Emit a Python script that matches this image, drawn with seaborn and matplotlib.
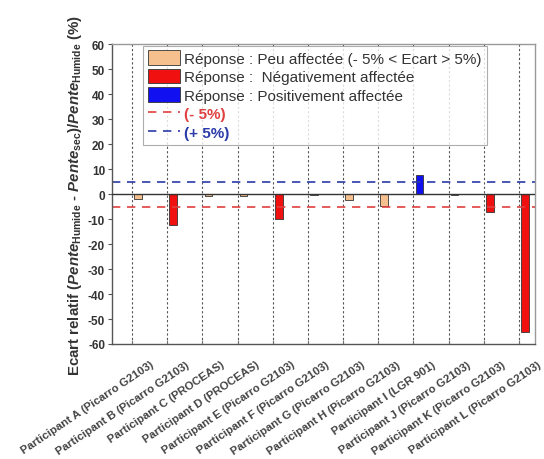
import matplotlib
matplotlib.use("Agg")
import matplotlib.pyplot as plt
from matplotlib.patches import Patch
from matplotlib.lines import Line2D
import seaborn as sns
import pandas as pd

participants = [
    "Participant A (Picarro G2103)",
    "Participant B (Picarro G2103)",
    "Participant C (PROCEAS)",
    "Participant D (PROCEAS)",
    "Participant E (Picarro G2103)",
    "Participant F (Picarro G2103)",
    "Participant G (Picarro G2103)",
    "Participant H (Picarro G2103)",
    "Participant I (LGR 901)",
    "Participant J (Picarro G2103)",
    "Participant K (Picarro G2103)",
    "Participant L (Picarro G2103)",
]
ecart = [-1.8, -12.5, -0.7, -0.7, -10.0, -0.5, -2.5, -4.8, 7.5, -0.5, -7.0, -55.0]
reponse = ["Peu", "Neg", "Peu", "Peu", "Neg", "Peu", "Peu", "Peu", "Pos", "Peu", "Neg", "Neg"]
seuil_bas = -5
seuil_haut = 5
y_ticks = list(range(-60, 61, 10))

legend_labels = {
    "Peu": "Réponse : Peu affectée (- 5% < Ecart > 5%)",
    "Neg": "Réponse :  Négativement affectée",
    "Pos": "Réponse : Positivement affectée",
}
colors = {"Peu": "#F6C08E", "Neg": "#F01010", "Pos": "#1010F0"}

sns.set_theme(style="white")
plt.rcParams["font.family"] = ["Liberation Sans", "DejaVu Sans"]
plt.rcParams["mathtext.fontset"] = "custom"
plt.rcParams["mathtext.rm"] = "Liberation Sans:bold"
plt.rcParams["mathtext.bf"] = "Liberation Sans:bold"
plt.rcParams["mathtext.it"] = "Liberation Sans:italic:bold"

df = pd.DataFrame({"participant": participants, "ecart": ecart, "reponse": reponse})

fig = plt.figure(figsize=(5.44, 4.60), dpi=100)
ax = fig.add_axes([0.206, 0.250, 0.777, 0.652])

sns.barplot(data=df, x="participant", y="ecart", hue="reponse", order=participants,
            palette=colors, saturation=1, dodge=False, width=0.22, edgecolor="#333333",
            linewidth=0.6, errorbar=None, legend=False, ax=ax)
for p in ax.patches:
    p.set_x(p.get_x() + 0.17)

ax.axhline(0, color="#333333", lw=1.0, zorder=3)
ax.axhline(seuil_bas, color="#E04040", lw=1.2, ls=(0, (5, 4)), zorder=1)
ax.axhline(seuil_haut, color="#2A3AA8", lw=1.2, ls=(0, (5, 4)), zorder=1)

ax.set_yticks(y_ticks)
ax.set_yticklabels([str(v) for v in y_ticks], fontsize=8.5, fontweight="bold", color="#333333")

# ticks carry the dotted grid; names are placed below, shifted right of each tick
pos = list(range(len(participants)))
ax.set_xticks(pos)
ax.set_xticklabels([""] * len(pos))
for i, name in zip(pos, participants):
    ax.annotate(name, xy=(i, 0), xycoords=ax.get_xaxis_transform(),
                xytext=(18, -15), textcoords="offset pixels",
                rotation=34, ha="right", va="top", rotation_mode="anchor",
                fontsize=8.2, fontweight="bold", color="#444444",
                annotation_clip=False)
ax.set_xlim(-0.57, 11.45)
ax.set_ylim(-60, 60)
ax.xaxis.grid(True, linestyle=(0, (2, 2)), color="#555555", lw=0.8)
ax.yaxis.grid(False)
ax.tick_params(axis="y", direction="out", length=3, width=0.8, color="#555555", pad=2, left=True)
ax.tick_params(axis="x", direction="in", length=3, width=0.8, color="#777777", bottom=True)
for s in ax.spines.values():
    s.set_color("#999999")
    s.set_linewidth(1.0)
ax.spines["left"].set_color("#555555")
ax.spines["bottom"].set_color("#555555")

ax.set_xlabel("")
ax.set_ylabel(r"Ecart relatif ($\mathit{Pente}_{\mathrm{Humide}}$ - $\mathit{Pente}_{\mathrm{sec}}$)/$\mathit{Pente}_{\mathrm{Humide}}$ (%)",
              fontsize=10.8, fontweight="bold", color="#333333", labelpad=3)

handles = [Patch(facecolor=colors[k], edgecolor="#333333", lw=0.6, label=legend_labels[k])
           for k in ["Peu", "Neg", "Pos"]]
handles += [
    Line2D([], [], color="#E04040", lw=1.2, ls=(0, (5, 4)), label="(- 5%)"),
    Line2D([], [], color="#2A3AA8", lw=1.2, ls=(0, (5, 4)), label="(+ 5%)"),
]
leg = ax.legend(handles=handles, loc="upper left", bbox_to_anchor=(0.07, 1.0),
                fontsize=11, frameon=True, fancybox=False, edgecolor="#999999",
                handlelength=2.1, handleheight=1.1, handletextpad=0.3,
                labelspacing=0.2, borderpad=0.3, borderaxespad=0.1)
leg.get_frame().set_linewidth(0.8)
texts = leg.get_texts()
for t in texts[:3]:
    t.set_color("#333333")
texts[3].set_color("#E04040")
texts[3].set_fontweight("bold")
texts[4].set_color("#2A3AA8")
texts[4].set_fontweight("bold")

fig.savefig("out.png", dpi=100)
